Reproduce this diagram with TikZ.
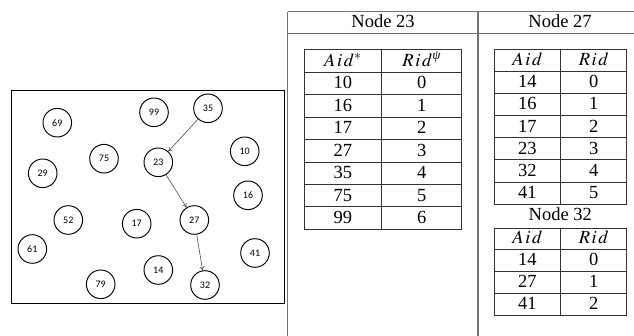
\documentclass[tikz,border=0pt]{standalone}
\usepackage{mathptmx}
\usepackage[no-math]{fontspec}
\setmainfont{Liberation Serif}
\newfontfamily\peerfont{Carlito}
\usetikzlibrary{arrows.meta}

\tikzset{
  peer/.style={circle, draw, line width=0.95pt, minimum size=28.6pt, inner sep=0pt,
               font=\peerfont\fontsize{10}{12}\selectfont},
  link/.style={draw=black!70, line width=0.6pt, -{To[length=4pt,width=5pt]}},
  frame/.style={draw=black!55, line width=1.5pt},
  tgrid/.style={draw=black!80, line width=0.8pt},
  cell/.style={inner sep=0pt, anchor=base, font=\fontsize{18.5}{22}\selectfont},
}
% italic Greek superscript set in the text font
\newcommand{\supgreek}[1]{\hbox{\fontsize{13}{15}\selectfont\itshape #1}}
% column titles in math italic with open letter spacing
\newcommand{\aidlabel}{A\kern1.6pt i\kern1.6pt d}
\newcommand{\ridlabel}{R\kern1.6pt i\kern1.6pt d}

\begin{document}
\begin{tikzpicture}[x=1pt,y=-1pt]
\useasboundingbox (0,0) rectangle (634,336);

% ---------- overlay network ----------
\draw[line width=0.95pt] (11,90) rectangle (284,303);
\foreach \id/\px/\py in {69/57.3/122.7, 99/154/112.3, 35/208/108.3, 10/244.7/151.3,
                         75/104/158.7, 23/158.3/162.3, 29/42.7/173.3, 16/248/195.3,
                         52/68.3/220, 17/136.7/223.7, 27/194.3/220, 61/32.3/249,
                         41/255/253, 14/158.3/270, 79/100.7/284.3, 32/205/285}
  \node[peer] (n\id) at (\px,\py) {\id};
\draw[link] (n35) -- (n23);
\draw[link] (n23) -- (n27);
\draw[link] (n27) -- (n32);

% ---------- outer frame of the routing tables ----------
\coordinate (fTL) at (287.7,11.7);
\coordinate (fTR) at (634,11.7);
\draw[frame] (fTL) -- (fTR);
\draw[frame] (287.7,33.3) -- (634,33.3);
\draw[frame] (fTL) -- (287.7,336);
\draw[frame] (478,11.7) -- (478,336);
\node[cell] (title23) at (383,27.3) {Node 23};
\node[cell] (title27) at (560,27.3) {Node 27};

% ---------- table of node 23 ----------
\draw[tgrid] (304,49.3) rectangle (461.7,229.3);
\draw[tgrid] (381.7,49.3) -- (381.7,229.3);
\foreach \i in {0,...,6}
  \draw[tgrid] (304,{72.3+\i*22.43}) -- (461.7,{72.3+\i*22.43});
\node[cell] (h23a) at (342.8,66.6) {$\aidlabel^{*}$};
\node[cell] (h23r) at (421.7,66.6) {$\ridlabel^{\supgreek{ψ}}$};
\foreach \a/\r [count=\k] in {10/0,16/1,17/2,27/3,35/4,75/5,99/6} {
  \node[cell] (t23a\k) at (342.8,{72.3+\k*22.43-5.8}) {\a};
  \node[cell] (t23r\k) at (421.7,{72.3+\k*22.43-5.8}) {\r};
}

% ---------- table of node 27 ----------
\draw[tgrid] (494,49.3) rectangle (626.7,204);
\draw[tgrid] (560.7,49.3) -- (560.7,204);
\foreach \i in {0,...,5}
  \draw[tgrid] (494,{71.7+\i*22.05}) -- (626.7,{71.7+\i*22.05});
\node[cell] (h27a) at (527.3,66) {$\aidlabel$};
\node[cell] (h27r) at (593.7,66) {$\ridlabel$};
\foreach \a/\r [count=\k] in {14/0,16/1,17/2,23/3,32/4,41/5} {
  \node[cell] (t27a\k) at (527.3,{71.7+\k*22.05-5.8}) {\a};
  \node[cell] (t27r\k) at (593.7,{71.7+\k*22.05-5.8}) {\r};
}

% ---------- table of node 32 ----------
\node[cell] (title32) at (560.3,220.5) {Node 32};
\draw[tgrid] (494,228.3) rectangle (626.7,315.7);
\draw[tgrid] (560.7,228.3) -- (560.7,315.7);
\foreach \i in {0,...,2}
  \draw[tgrid] (494,{249.5+\i*22.07}) -- (626.7,{249.5+\i*22.07});
\node[cell] (h32a) at (527.3,243.8) {$\aidlabel$};
\node[cell] (h32r) at (593.7,243.8) {$\ridlabel$};
\foreach \a/\r [count=\k] in {14/0,27/1,41/2} {
  \node[cell] (t32a\k) at (527.3,{249.5+\k*22.07-5.8}) {\a};
  \node[cell] (t32r\k) at (593.7,{249.5+\k*22.07-5.8}) {\r};
}
\end{tikzpicture}
\end{document}
